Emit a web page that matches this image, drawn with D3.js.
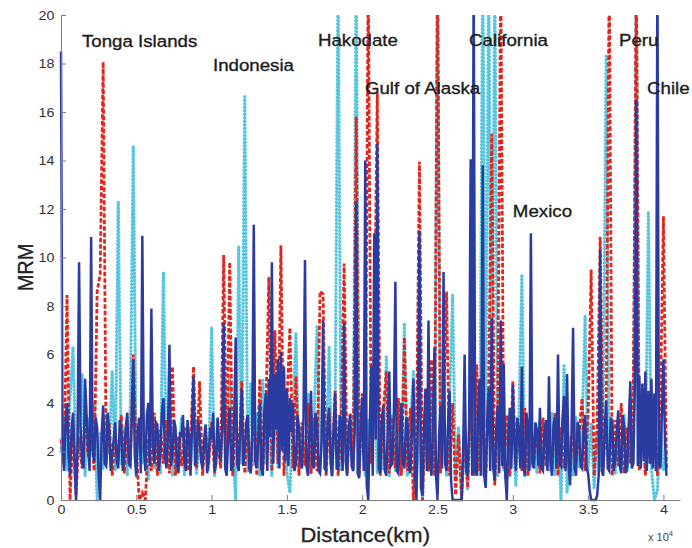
<!DOCTYPE html>
<html>
<head>
<meta charset="utf-8">
<script src="https://cdn.jsdelivr.net/npm/d3@7"></script>
<style>
  body { margin: 0; background: #fff; }
  svg { display: block; font-family: 'Liberation Sans', Arial, sans-serif; }
</style>
</head>
<body>
<svg id="chart" width="692" height="548"></svg>
<script>
// sample spacing along the track, in units of 10^4 km
const blueStep = 0.01
const sampleStep = 0.02

const blueMrm = [
  18.5, 2.6, 1.2, 3.1, 4.0, 1.8, 1.0, 2.9, 3.6, 1.5, 0, 2.4, 9.8, 3.0, 1.5, 1.3, 5.0, 3.5, 2.2, 1.2,
  10.85, 2.0, 1.6, 3.4, 3.0, 1.1, 0, 2.7, 3.9, 1.5, 1.4, 3.6, 2.8, 1.2, 1.9, 2.5, 3.2, 1.6, 1.3, 3.3,
  2.9, 1.2, 1.8, 3.0, 3.6, 1.5, 1.4, 3.4, 5.8, 1.8, 1.0, 2.9, 3.4, 1.1, 10.9, 2.2, 1.2, 3.5, 4.0, 1.4,
  7.9, 2.3, 1.5, 3.2, 3.1, 1.2, 2.0, 3.6, 4.2, 1.9, 1.3, 2.7, 6.4, 1.4, 1.8, 3.3, 3.0, 1.5, 1.1, 2.8,
  2.6, 3.5, 1.5, 1.2, 3.3, 2.6, 1.0, 3.1, 5.1, 1.4, 1.9, 3.3, 2.8, 1.6, 1.3, 2.4, 3.1, 1.1, 1.6, 3.0,
  2.5, 3.6, 1.2, 1.5, 3.4, 2.2, 1.6, 3.0, 7.3, 1.3, 1.0, 2.7, 3.8, 1.2, 1.5, 3.4, 6.7, 1.5, 1.2, 2.9,
  4.6, 1.4, 2.0, 3.2, 3.5, 1.3, 1.1, 2.8, 11.35, 1.6, 1.3, 2.5, 4.0, 1.3, 1.0, 3.7, 4.4, 1.2, 5.0, 2.6,
  9.8, 1.5, 5.2, 2.9, 5.8, 1.3, 6.1, 2.0, 5.5, 1.6, 4.6, 1.4, 4.2, 2.8, 4.0, 1.2, 1.5, 3.5, 3.0, 1.6,
  1.3, 3.3, 9.9, 1.4, 1.0, 2.7, 4.5, 1.5, 1.3, 3.6, 3.2, 1.2, 1.1, 2.4, 7.4, 1.3, 1.2, 3.1, 3.8, 1.5,
  1.0, 2.9, 4.4, 1.3, 1.3, 3.5, 3.1, 1.2, 7.3, 1.6, 1.0, 3.0, 3.5, 1.4, 1.2, 2.8, 12.3, 1.1, 0.9, 3.2,
  4.2, 1.2, 14.0, 0.6, 0, 3.1, 5.5, 1.0, 11.0, 2.5, 14.7, 1.3, 1.1, 3.3, 3.9, 1.2, 1.0, 3.0, 5.3, 1.4,
  1.5, 3.4, 9.0, 1.2, 1.1, 2.7, 4.0, 1.5, 1.3, 3.2, 3.4, 1.3, 1.1, 2.9, 5.0, 1.1, 0, 3.5, 11.1, 0.5,
  0.2, 3.0, 4.6, 1.2, 7.4, 1.6, 1.0, 3.4, 6.3, 1.0, 0, 2.6, 3.9, 1.3, 9.4, 1.5, 1.2, 3.2, 4.5, 0.8,
  0, 0, 0, 0, 0, 0, 0, 2.0, 6.0, 1.2, 1.0, 3.2, 14.05, 1.0, 22, 1.2, 1.0, 3.6, 5.0, 1.0,
  13.8, 1.0, 0.5, 3.2, 4.6, 1.2, 7.5, 1.3, 0.8, 2.9, 3.9, 1.1, 7.4, 1.4, 5.6, 1.0, 0, 2.6, 3.8, 1.3,
  4.75, 2.5, 1.2, 3.4, 2.8, 1.3, 5.5, 1.4, 1.0, 3.6, 3.0, 1.2, 11.0, 1.5, 1.3, 3.2, 2.9, 1.4, 3.8, 1.3,
  1.2, 2.9, 3.3, 1.2, 5.1, 1.6, 1.0, 3.1, 3.4, 1.3, 6.0, 1.5, 1.4, 3.3, 4.3, 1.2, 5.2, 1.5, 0.6, 2.8,
  7.1, 1.3, 1.0, 3.2, 3.0, 1.4, 1.3, 2.9, 3.5, 1.3, 1.1, 0.4, 0, 0, 0, 0, 0.2, 1.0, 10.3, 1.2,
  1.0, 2.9, 4.1, 1.3, 1.2, 3.4, 3.2, 1.2, 1.6, 2.8, 3.7, 1.4, 1.1, 3.5, 3.0, 1.1, 1.4, 3.2, 4.9, 1.3,
  1.5, 4.6, 16.5, 1.4, 5.1, 1.3, 4.8, 1.6, 5.3, 1.2, 4.5, 1.5, 5.0, 1.3, 4.4, 1.2, 22, 1.5, 1.3, 3.6,
  5.8, 2.5, 1.0,
]

const cyanMrm = [
  2.0, 3.5, 1.2, 4.2, 6.3, 1.5, 3.0, 5.2, 1.0, 3.4,
  2.2, 4.0, 0, 2.8, 1.3, 3.5, 1.9, 5.3, 1.2, 12.3,
  1.5, 3.0, 1.0, 3.8, 14.6, 0.9, 3.2, 1.5, 2.6, 0.8,
  3.7, 1.3, 2.9, 1.1, 9.4, 1.4, 3.5, 1.0, 2.7, 1.6,
  3.4, 1.0, 2.9, 1.3, 3.6, 1.1, 2.5, 1.5, 3.1, 1.2,
  7.1, 1.0, 3.3, 1.4, 4.0, 1.2, 5.0, 2.0, 0, 10.45,
  1.5, 16.7, 1.2, 4.8, 1.4, 3.6, 1.0, 5.0, 1.5, 3.2,
  1.0, 4.3, 1.3, 3.0, 5.2, 1.1, 0.3, 3.5, 6.9, 1.2,
  3.0, 1.4, 4.4, 1.1, 3.3, 7.2, 1.2, 4.0, 1.5, 6.3,
  1.0, 3.5, 22, 1.2, 4.2, 1.4, 3.0, 1.2, 22, 1.5,
  3.8, 1.0, 3.3, 1.6, 4.6, 1.1, 3.1, 1.3, 5.9, 1.0,
  3.5, 1.2, 4.0, 1.4, 7.3, 1.0, 3.2, 5.3, 0.8, 3.6,
  0, 2.8, 1.2, 4.5, 1.0, 22, 1.3, 3.6, 1.0, 4.1,
  8.45, 0.9, 3.0, 0, 2.5, 0.4, 3.8, 1.1, 4.7, 1.0,
  22, 3.0, 22, 2.5, 22, 1.0, 4.4, 1.2, 3.5, 1.0,
  2.9, 0.6, 3.4, 9.3, 1.0, 3.0, 1.4, 2.6, 1.1, 3.3,
  1.5, 2.8, 1.2, 3.6, 1.0, 2.9, 0, 5.6, 0.3, 2.6,
  1.0, 3.4, 1.3, 3.0, 7.6, 1.2, 3.2, 0.5, 2.8, 1.4,
  3.9, 18.3, 1.5, 3.3, 1.1, 2.7, 1.4, 3.5, 1.2, 3.0,
  1.6, 22, 1.4, 4.6, 1.1, 11.9, 1.3, 0, 0.4, 3.3,
  1.2, 2.0,
]

const redMrm = [
  2.5, 1.4, 8.45, 0, 3.0, 0.2, 2.6, 1.3, 3.4, 1.8,
  2.9, 1.2, 8.6, 9.3, 18.06, 1.5, 3.2, 1.0, 2.7, 1.6,
  3.5, 1.1, 2.8, 1.4, 6.0, 2.0, 0, 0.3, 0, 2.5,
  1.2, 3.6, 1.0, 2.9, 1.5, 3.3, 1.1, 5.5, 1.0, 2.6,
  1.4, 3.0, 1.2, 2.4, 5.5, 1.3, 4.9, 1.0, 2.8, 1.5,
  3.2, 1.1, 2.5, 1.3, 10.1, 1.4, 9.8, 1.0, 3.4, 1.6,
  4.9, 1.1, 3.0, 1.2, 3.8, 1.0, 5.0, 1.3, 3.5, 9.2,
  1.2, 7.0, 1.5, 10.5, 1.0, 4.0, 7.1, 1.3, 5.1, 1.0,
  3.2, 1.4, 4.0, 1.1, 3.4, 1.2, 8.6, 8.5, 1.0, 3.6,
  1.2, 4.5, 1.0, 3.0, 9.75, 1.1, 3.6, 1.3, 15.8, 1.0,
  4.4, 1.2, 22, 1.5, 6.1, 16.8, 1.0, 3.7, 5.3, 1.1,
  3.4, 1.3, 4.2, 1.0, 6.7, 1.2, 3.8, 0, 2.5, 13.95,
  0, 3.6, 1.2, 5.8, 1.0, 22, 1.1, 3.9, 8.6, 1.0,
  4.0, 0.2, 2.7, 0, 3.0, 0.5, 4.2, 1.0, 5.6, 1.2,
  3.6, 1.0, 4.8, 15.1, 0.6, 4.0, 22, 1.3, 3.5, 1.0,
  4.9, 1.5, 3.1, 1.2, 3.8, 1.0, 3.2, 1.6, 2.9, 1.1,
  3.4, 1.4, 2.7, 1.2, 3.6, 1.0, 3.0, 1.3, 2.6, 1.0,
  3.3, 1.5, 2.8, 4.2, 1.2, 3.5, 9.5, 1.0, 3.0, 10.85,
  1.3, 3.4, 22, 1.0, 3.3, 1.4, 4.0, 1.1, 3.0, 1.5,
  4.6, 22, 1.2, 3.8, 1.0, 4.4, 1.5, 3.2, 1.0, 4.0,
  11.7, 1.3,
]

const yTicks = [0, 2, 4, 6, 8, 10, 12, 14, 16, 18, 20]
const xTicks = [0, 0.5, 1, 1.5, 2, 2.5, 3, 3.5, 4]
const xTickLabels = ['0', '0.5', '1', '1.5', '2', '2.5', '3', '3.5', '4']

const places = ['Tonga Islands', 'Indonesia', 'Hakodate', 'Gulf of Alaska',
  'California', 'Mexico', 'Peru', 'Chile']
// label anchor in data units (x 10^4 km, MRM)
const placeAt = [[0.139, 18.68], [1.009, 17.69], [1.706, 18.72], [2.018, 16.74],
  [2.709, 18.72], [3.0, 11.67], [3.705, 18.72], [3.891, 16.74]]

// the source figure is a bit wider than its fonts
const stretch = 1.1

const svg = d3.select('#chart')
const x = d3.scaleLinear().domain([0, 4.11]).range([61, 680])
const y = d3.scaleLinear().domain([0, 20]).range([500, 15])

svg.append('defs').append('clipPath').attr('id', 'plot')
  .append('rect')
  .attr('x', x(0) - 2)
  .attr('y', y(20))
  .attr('width', x(4.11) - x(0) + 2)
  .attr('height', y(0) - y(20) + 3)

const series = [
  { values: cyanMrm, step: sampleStep, color: '#57c5de', width: 3.4, dash: '0.1 3.4', cap: 'round' },
  { values: redMrm, step: sampleStep, color: '#e2261d', width: 2.8, dash: '4.5 2', cap: 'butt' },
  { values: blueMrm, step: blueStep, color: '#2c3b9f', width: 2.5, dash: null, cap: 'butt' },
]

svg.append('g')
  .attr('clip-path', 'url(#plot)')
  .selectAll('path')
  .data(series)
  .enter().append('path')
  .attr('fill', 'none')
  .attr('stroke', d => d.color)
  .attr('stroke-width', d => d.width)
  .attr('stroke-dasharray', d => d.dash)
  .attr('stroke-linecap', d => d.cap)
  .attr('stroke-linejoin', 'miter')
  .attr('d', d => d3.line()
    .x((v, i) => x(i * d.step))
    .y(v => y(v))(d.values))

function styleAxis(g) {
  g.attr('font-family', null).attr('font-size', 13)
  g.select('.domain').attr('stroke', '#7d7d7d')
  g.selectAll('.tick line').attr('stroke', '#7d7d7d')
  g.selectAll('.tick text').attr('fill', '#333')
    .attr('transform', `scale(${stretch},1)`)
}

svg.append('g')
  .attr('transform', `translate(${x(0)},0)`)
  .call(d3.axisLeft(y).tickValues(yTicks).tickSizeInner(-5).tickSizeOuter(0).tickPadding(6))
  .call(styleAxis)

svg.append('g')
  .attr('transform', `translate(0,${y(0)})`)
  .call(d3.axisBottom(x).tickValues(xTicks).tickFormat((d, i) => xTickLabels[i])
    .tickSizeInner(-5).tickSizeOuter(0).tickPadding(5))
  .call(styleAxis)

svg.append('text')
  .attr('transform', `translate(33,${y(10) + 10}) rotate(-90) scale(1,${stretch})`)
  .attr('text-anchor', 'middle')
  .attr('font-size', 20)
  .attr('fill', '#222')
  .attr('stroke', '#222')
  .attr('stroke-width', 0.3)
  .text('MRM')

svg.append('text')
  .attr('transform', `translate(${x(2.02)},542) scale(${stretch},1)`)
  .attr('text-anchor', 'middle')
  .attr('font-size', 20)
  .attr('fill', '#222')
  .attr('stroke', '#222')
  .attr('stroke-width', 0.3)
  .text('Distance(km)')

const power = svg.append('text')
  .attr('transform', `translate(648,541) scale(${stretch},1)`)
  .attr('font-size', 10)
  .attr('fill', '#444')
power.append('tspan').text('x 10')
power.append('tspan').attr('font-size', 7).attr('dy', -5).text('4')

svg.append('g')
  .selectAll('text')
  .data(places)
  .enter().append('text')
  .attr('transform', (d, i) => `translate(${x(placeAt[i][0])},${y(placeAt[i][1])}) scale(${stretch},1)`)
  .attr('font-size', 17)
  .attr('fill', '#1c1c1c')
  .attr('stroke', '#1c1c1c')
  .attr('stroke-width', 0.35)
  .text(d => d)
</script>
</body>
</html>
